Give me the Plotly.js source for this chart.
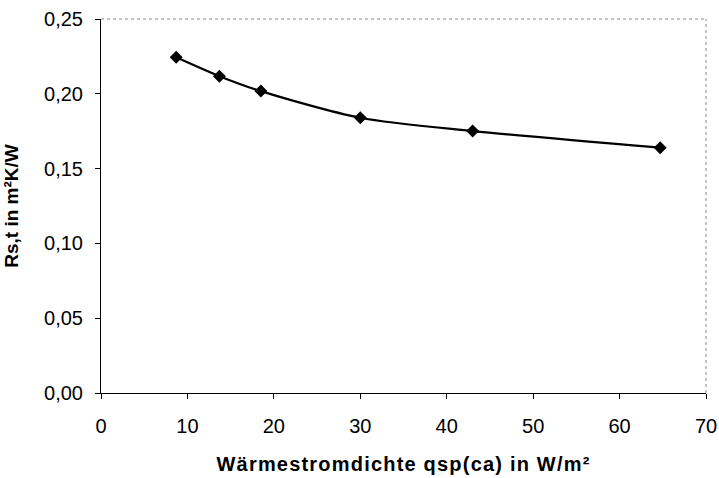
<!DOCTYPE html>
<html>
<head>
<meta charset="utf-8">
<script src="https://cdn.plot.ly/plotly-3.0.1.min.js"></script>
<style>html,body{margin:0;padding:0;background:#fff;}#chart{width:719px;height:478px;}
.xtitle{letter-spacing:1.2px;}</style>
</head>
<body>
<div id="chart"></div>
<script>
const heatFlux = [8.7, 13.7, 18.5, 30.0, 43.0, 64.7];
const resistance = [0.2244, 0.2118, 0.2018, 0.1840, 0.1751, 0.1640];
const xTicks = [0, 10, 20, 30, 40, 50, 60, 70];
const yTicks = [0, 0.05, 0.10, 0.15, 0.20, 0.25];
const xTitle = "Wärmestromdichte qsp(ca) in W/m²";
const yTitle = "Rs,t in m²K/W";

const trace = {
  x: heatFlux, y: resistance, type: 'scatter', mode: 'lines+markers',
  line: {color: '#000', width: 2.2, shape: 'spline', smoothing: 0.8},
  marker: {symbol: 'diamond', size: 10, color: '#000'},
  showlegend: false
};
const layout = {
  width: 719, height: 478,
  margin: {l: 101, r: 13, t: 19, b: 85},
  paper_bgcolor: '#fff', plot_bgcolor: '#fff',
  separators: ', ',
  font: {family: 'Liberation Sans, Arial, sans-serif', size: 20, color: '#000'},
  xaxis: {
    range: [0, 70], tickvals: xTicks, ticktext: xTicks.map(String),
    showgrid: false, zeroline: false, showline: true, linecolor: '#000', linewidth: 1,
    ticks: 'outside', ticklen: 5, tickcolor: '#000', ticklabelstandoff: 10,
    tickfont: {size: 20},
    title: {text: xTitle, font: {size: 20, weight: 'bold'}, standoff: 20}
  },
  yaxis: {
    range: [0, 0.25], tickvals: yTicks, tickformat: '.2f',
    showgrid: false, zeroline: false, showline: true, linecolor: '#000', linewidth: 1,
    ticks: 'outside', ticklen: 5, tickcolor: '#000', ticklabelstandoff: 8,
    tickfont: {size: 20},
    title: {text: yTitle, font: {size: 19, weight: 'bold'}, standoff: 20}
  },
  shapes: [
    {type: 'line', xref: 'paper', yref: 'paper', x0: 0, x1: 1, y0: 1, y1: 1, line: {color: '#888', width: 1, dash: 'dot'}},
    {type: 'line', xref: 'paper', yref: 'paper', x0: 1, x1: 1, y0: 0, y1: 1, line: {color: '#888', width: 1, dash: 'dot'}}
  ]
};
Plotly.newPlot('chart', [trace], layout, {displayModeBar: false, staticPlot: true});
</script>
</body>
</html>
